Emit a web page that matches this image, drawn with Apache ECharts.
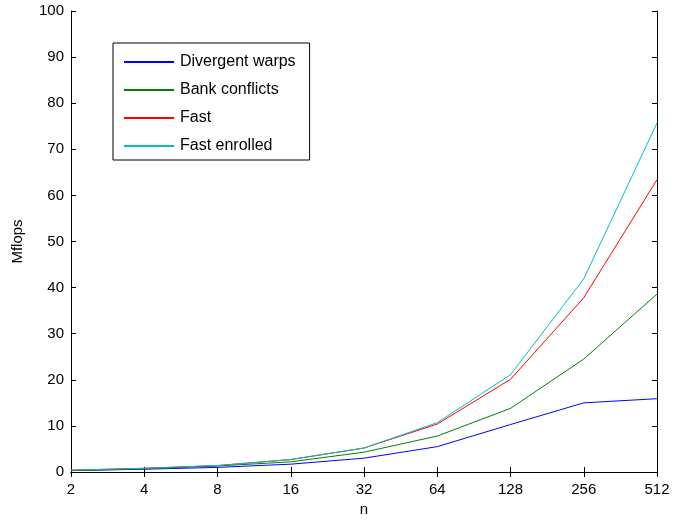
<!DOCTYPE html>
<html>
<head>
<meta charset="utf-8">
<script src="https://cdn.jsdelivr.net/npm/echarts@6/dist/echarts.min.js"></script>
<style>html,body{margin:0;padding:0;background:#fff}#c{width:673px;height:520px}</style>
</head>
<body>
<div id="c"></div>
<script>
const categories = ['2','4','8','16','32','64','128','256','512'];
const divergentWarps = [0.3, 0.6, 1.0, 1.7, 3.0, 5.5, 10.3, 15.0, 15.9];
const bankConflicts  = [0.3, 0.7, 1.3, 2.2, 4.3, 7.8, 13.8, 24.5, 38.6];
const fast           = [0.4, 0.8, 1.4, 2.7, 5.2, 10.4, 20.1, 37.8, 63.4];
const fastEnrolled   = [0.4, 0.8, 1.4, 2.7, 5.2, 10.7, 21.1, 41.9, 75.7];
const seriesNames = ['Divergent warps','Bank conflicts','Fast','Fast enrolled'];
const seriesColors = ['#0000ff','#008000','#ff0000','#00bfbf'];
const seriesData = [divergentWarps, bankConflicts, fast, fastEnrolled];

const font = 'Liberation Sans, Arial, sans-serif';
const chart = echarts.init(document.getElementById('c'), null, {renderer:'canvas'});
const axisLine = {show:true, lineStyle:{color:'#000', width:1}};
chart.setOption({
  animation:false,
  backgroundColor:'#fff',
  grid:{left:71, right:16, top:11, bottom:48, containLabel:false, outerBoundsMode:'none'},
  legend:{
    data:seriesNames, orient:'vertical', left:113, top:43,
    backgroundColor:'#fff', borderColor:'#000', borderWidth:1,
    padding:[11,14,6,10], itemWidth:50, itemHeight:14, itemGap:12,
    itemStyle:{opacity:0},
    textStyle:{fontFamily:font, fontSize:16, color:'#000', padding:[0,0,0,1]}
  },
  xAxis:[{
    type:'category', data:categories, boundaryGap:false,
    name:'n', nameLocation:'middle', nameGap:29,
    nameTextStyle:{fontFamily:font, fontSize:15, color:'#000'},
    axisLine:axisLine,
    axisTick:{show:true, inside:true, length:5, alignWithLabel:true, lineStyle:{color:'#000'}},
    axisLabel:{fontFamily:font, fontSize:15, color:'#000', margin:10, showMinLabel:true, showMaxLabel:true, interval:0},
    splitLine:{show:false}
  },{
    type:'category', data:categories, boundaryGap:false, position:'top',
    axisLine:axisLine,
    axisTick:{show:true, inside:true, length:5, lineStyle:{color:'#000'}},
    axisLabel:{show:false}, splitLine:{show:false}
  }],
  yAxis:[{
    type:'value', min:0, max:100, interval:10,
    name:'Mflops', nameLocation:'middle', nameGap:46,
    nameTextStyle:{fontFamily:font, fontSize:15, color:'#000'},
    axisLine:axisLine,
    axisTick:{show:true, inside:true, length:5, lineStyle:{color:'#000'}},
    axisLabel:{fontFamily:font, fontSize:15, color:'#000', margin:7},
    splitLine:{show:false}
  },{
    type:'value', min:0, max:100, interval:10, position:'right',
    axisLine:axisLine,
    axisTick:{show:true, inside:true, length:5, lineStyle:{color:'#000'}},
    axisLabel:{show:false}, splitLine:{show:false}
  }],
  series: seriesNames.map((n,i)=>({
    name:n, type:'line', data:seriesData[i], symbol:'none',
    lineStyle:{color:seriesColors[i], width:1}, itemStyle:{color:seriesColors[i]},
    z: 2+i
  }))
});
</script>
</body>
</html>
